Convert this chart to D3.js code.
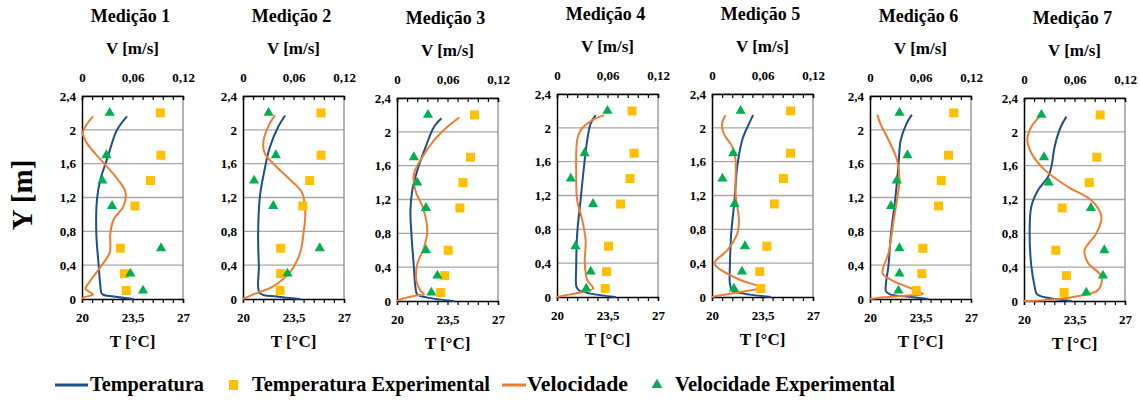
<!DOCTYPE html>
<html><head><meta charset="utf-8">
<script src="https://cdn.jsdelivr.net/npm/d3@7"></script>
<style>body{margin:0;background:#fff}svg{display:block}</style>
</head><body><svg id="c" width="1140" height="400"></svg>
<script>
// ---------- data ----------
const titles = ["Medição 1","Medição 2","Medição 3","Medição 4","Medição 5","Medição 6","Medição 7"];
const yTicks = [0,0.4,0.8,1.2,1.6,2,2.4];
const yTickLabels = ["0","0,4","0,8","1,2","1,6","2","2,4"];
const tTicks = [20,23.5,27];
const tTickLabels = ["20","23,5","27"];
const vTicks = [0,0.06,0.12];
const vTickLabels = ["0","0,06","0,12"];
const yExp = [0.1,0.3,0.6,1.1,1.4,1.7,2.2];

const tExp1 = [23.07,22.93,22.66,23.67,24.74,25.47,25.43];
const tExp2 = [22.57,22.61,22.61,24.15,24.62,25.41,25.41];
const tExp3 = [23.03,23.31,23.55,24.36,24.57,25.09,25.37];
const tExp4 = [23.34,23.43,23.57,24.41,25.06,25.34,25.2];
const tExp5 = [23.38,23.31,23.8,24.32,24.95,25.44,25.44];
const tExp6 = [23.2,23.59,23.66,24.75,24.94,25.44,25.8];
const tExp7 = [22.78,22.94,22.2,22.64,24.52,25.05,25.28];

const vExp1 = [0.0725,0.0574,0.0939,0.0357,0.0242,0.029,0.0329];
const vExp2 = [null,0.0528,0.0912,0.036,0.0132,0.039,0.0304];
const vExp3 = [0.0408,0.048,0.0344,0.0344,0.024,0.02,0.0368];
const vExp4 = [0.0348,0.04,0.022,0.0428,0.0164,0.0328,0.06];
const vExp5 = [0.026,0.0356,0.0392,0.0268,0.0124,0.0252,0.034];
const vExp6 = [0.0338,0.035,0.035,0.025,0.0318,0.0445,0.035];
const vExp7 = [0.074,0.0938,0.0954,0.0795,0.0294,0.0238,0.0207];

// simulated profiles: [Y, T]
const tSim1 = [[0,23.58],[0.03,22.2],[0.06,21.39],[0.16,21.27],[0.39,21.16],[0.78,20.99],[1.18,21.04],[1.41,21.27],[1.65,21.73],[2.0,22.43],[2.16,23.12]];
const tSim2 = [[0,23.97],[0.03,22.33],[0.07,21.17],[0.38,21.1],[0.78,21.05],[1.21,21.17],[1.49,21.45],[1.8,21.87],[2.04,22.45],[2.17,22.92]];
const tSim3 = [[0,23.97],[0.04,22.1],[0.08,21.4],[0.16,21.28],[0.4,21.17],[0.79,21.0],[1.07,20.93],[1.3,21.05],[1.54,21.4],[1.82,21.98],[2.06,22.57],[2.16,23.08]];
const tSim4 = [[0,24.08],[0.04,22.33],[0.08,21.52],[0.12,21.35],[0.36,21.33],[0.75,21.4],[1.14,21.63],[1.54,21.87],[1.86,22.1],[2.05,22.33],[2.15,22.68]];
const tSim5 = [[0,24.08],[0.04,22.2],[0.08,21.4],[0.16,21.24],[0.36,21.24],[0.75,21.33],[1.14,21.56],[1.54,21.75],[1.86,22.1],[2.05,22.57],[2.15,22.85]];
const tSim6 = [[0,24.06],[0.03,22.55],[0.055,21.39],[0.09,21.11],[0.19,21.11],[0.38,21.27],[0.78,21.46],[1.17,21.74],[1.57,21.97],[1.88,22.13],[2.08,22.55],[2.18,22.9]];
const tSim7 = [[0,23.3],[0.03,21.9],[0.06,21.1],[0.09,20.86],[0.17,20.74],[0.41,20.51],[0.8,20.39],[1.12,20.51],[1.31,20.97],[1.47,21.67],[1.59,21.9],[1.83,22.13],[2.06,22.55],[2.18,22.94]];

// simulated profiles: [Y, V]
const vSim1 = [[0,0],[0.02,0.002],[0.05,0.013],[0.07,0.011],[0.12,0.004],[0.16,0.006],[0.27,0.0139],[0.43,0.0257],[0.55,0.033],[0.78,0.0337],[0.94,0.0376],[1.1,0.0495],[1.27,0.0515],[1.45,0.0396],[1.65,0.0218],[1.84,0.006],[1.96,0.001],[2.04,0.004],[2.16,0.013]];
const vSim2 = [[0,0],[0.07,0.016],[0.15,0.036],[0.32,0.056],[0.55,0.068],[0.79,0.072],[1.02,0.074],[1.26,0.07],[1.41,0.056],[1.56,0.04],[1.72,0.026],[1.84,0.024],[2.04,0.03],[2.17,0.038]];
const vSim3 = [[0,0],[0.02,0.004],[0.06,0.02],[0.08,0.032],[0.12,0.028],[0.24,0.023],[0.43,0.024],[0.63,0.032],[0.83,0.036],[1.1,0.031],[1.3,0.022],[1.5,0.02],[1.7,0.03],[1.9,0.044],[2.06,0.06],[2.17,0.074]];
const vSim4 = [[0,0],[0.02,0.01],[0.06,0.03],[0.1,0.043],[0.2,0.036],[0.39,0.033],[0.67,0.034],[0.91,0.03],[1.14,0.024],[1.46,0.0228],[1.86,0.024],[1.97,0.028],[2.09,0.042],[2.15,0.056]];
const vSim5 = [[0,0],[0.02,0.01],[0.06,0.034],[0.11,0.058],[0.2,0.034],[0.3,0.014],[0.4,0.0028],[0.55,0.018],[0.75,0.03],[0.91,0.032],[1.22,0.028],[1.62,0.028],[1.78,0.024],[1.93,0.014],[2.05,0.012],[2.15,0.016]];
const vSim6 = [[0,0],[0.02,0.016],[0.04,0.044],[0.06,0.063],[0.13,0.048],[0.22,0.026],[0.3,0.015],[0.38,0.016],[0.54,0.022],[0.86,0.027],[1.17,0.032],[1.41,0.035],[1.65,0.032],[1.88,0.022],[2.08,0.012],[2.18,0.0087]];
const vSim7 = [[0,0],[0.01,0.025],[0.05,0.06],[0.13,0.088],[0.29,0.092],[0.45,0.076],[0.6,0.072],[0.8,0.086],[1.0,0.092],[1.19,0.08],[1.35,0.052],[1.55,0.0246],[1.75,0.0087],[1.91,0.004],[2.06,0.0087],[2.18,0.0187]];

const tExpAll = [tExp1,tExp2,tExp3,tExp4,tExp5,tExp6,tExp7];
const vExpAll = [vExp1,vExp2,vExp3,vExp4,vExp5,vExp6,vExp7];
const tSimAll = [tSim1,tSim2,tSim3,tSim4,tSim5,tSim6,tSim7];
const vSimAll = [vSim1,vSim2,vSim3,vSim4,vSim5,vSim6,vSim7];

const legendLabels = ["Temperatura","Temperatura Experimental","Velocidade","Velocidade Experimental"];

// ---------- layout ----------
const FONT = '"Liberation Serif","Times New Roman",serif';
const panelLeft = [82,243,397,557,712,870,1024];
const panelTop = [96,96,98,94,94,96,98];
const PW = 101, PH = 203;
const C = {temp:"#1f4e8c", tExp:"#ffc000", vel:"#ed7d31", vExp:"#00b050", grid:"#a6a6a6"};

const svg = d3.select("#c");

titles.forEach((title,i)=>{
  const g = svg.append("g").attr("transform",`translate(${panelLeft[i]},${panelTop[i]})`);
  const y = d3.scaleLinear().domain([0,2.4]).range([PH,0]);
  const xT = d3.scaleLinear().domain([20,27]).range([0,PW]);
  const xV = d3.scaleLinear().domain([0,0.12]).range([0,PW]);

  // gridlines
  g.append("g").selectAll("line").data(yTicks.slice(1)).join("line")
    .attr("x1",0).attr("x2",PW).attr("y1",d=>y(d)).attr("y2",d=>y(d))
    .attr("stroke",C.grid).attr("stroke-width",1.3);
  // right border
  g.append("line").attr("x1",PW).attr("x2",PW).attr("y1",0).attr("y2",PH).attr("stroke","#8c8c8c").attr("stroke-width",1.3);
  // left axis
  const ly = g.append("g").call(d3.axisLeft(y).tickValues(yTicks).tickFormat((d,k)=>yTickLabels[k]).tickSize(0).tickPadding(6));
  ly.select(".domain").attr("stroke","#000").attr("stroke-width",1.5);
  ly.selectAll("text").style("font-size","13px");

  // top V axis
  const ta = g.append("g").call(d3.axisTop(xV).tickValues(d3.range(0,11).map(k=>k*0.012)).tickSize(-4).tickFormat(""));
  ta.select(".domain").attr("stroke","#000").attr("stroke-width",1.5);
  ta.selectAll(".tick line").attr("stroke","#000").attr("stroke-width",1.2);
  const ta2 = g.append("g").call(d3.axisTop(xV).tickValues(vTicks).tickFormat((d,k)=>vTickLabels[k]).tickSize(0).tickPadding(14));
  ta2.select(".domain").remove();
  ta2.selectAll("text").style("font-size","13px");

  // bottom T axis
  const ba = g.append("g").attr("transform",`translate(0,${PH})`)
    .call(d3.axisBottom(xT).tickValues(d3.range(0,11).map(k=>20+k*0.7)).tickSize(4).tickFormat(""));
  ba.select(".domain").attr("stroke","#000").attr("stroke-width",1.5);
  ba.selectAll(".tick line").attr("stroke","#000").attr("stroke-width",1.2);
  const ba2 = g.append("g").attr("transform",`translate(0,${PH})`)
    .call(d3.axisBottom(xT).tickValues(tTicks).tickFormat((d,k)=>tTickLabels[k]).tickSize(0).tickPadding(14));
  ba2.select(".domain").remove();
  ba2.selectAll("text").style("font-size","13px");

  // titles
  g.append("text").attr("x",PW/2-2).attr("y",-74).attr("text-anchor","middle").style("font-size","18px").text(title);
  g.append("text").attr("x",PW/2).attr("y",-42).attr("text-anchor","middle").style("font-size","17px").text("V [m/s]");
  g.append("text").attr("x",PW/2).attr("y",PH+48).attr("text-anchor","middle").style("font-size","17px").text("T [°C]");

  // simulated lines
  const lineT = d3.line().x(d=>xT(d[1])).y(d=>y(d[0])).curve(d3.curveCatmullRom.alpha(0.5));
  const lineV = d3.line().x(d=>xV(d[1])).y(d=>y(d[0])).curve(d3.curveCatmullRom.alpha(0.5));
  g.append("path").attr("d",lineT(tSimAll[i])).attr("fill","none").attr("stroke",C.temp).attr("stroke-width",2);
  g.append("path").attr("d",lineV(vSimAll[i])).attr("fill","none").attr("stroke",C.vel).attr("stroke-width",2);

  // experimental markers
  const sq = 9;
  g.append("g").selectAll("rect").data(yExp.map((yy,k)=>[yy,tExpAll[i][k]]).filter(d=>d[1]!=null)).join("rect")
    .attr("x",d=>xT(d[1])-sq/2).attr("y",d=>y(d[0])-sq/2).attr("width",sq).attr("height",sq).attr("fill",C.tExp);
  const tri = d3.symbol().type(d3.symbolTriangle).size(45);
  g.append("g").selectAll("path").data(yExp.map((yy,k)=>[yy,vExpAll[i][k]]).filter(d=>d[1]!=null)).join("path")
    .attr("d",tri).attr("transform",d=>`translate(${xV(d[1])},${y(d[0])})`).attr("fill",C.vExp);
});

// Y label
svg.append("text").attr("transform","translate(32,195) rotate(-90)").attr("text-anchor","middle").style("font-size","29px").text("Y [m]");

// legend
const lg = svg.append("g").attr("transform","translate(0,385)");
const lgText = (x,w,s)=>lg.append("text").attr("x",x).attr("y",6).attr("textLength",w).attr("lengthAdjust","spacingAndGlyphs").style("font-size","20px").text(s);
lg.append("line").attr("x1",55).attr("x2",88).attr("y1",0).attr("y2",0).attr("stroke",C.temp).attr("stroke-width",3);
lgText(90,114,legendLabels[0]);
lg.append("rect").attr("x",229).attr("y",-5).attr("width",9).attr("height",10).attr("fill",C.tExp);
lgText(252,238,legendLabels[1]);
lg.append("line").attr("x1",502).attr("x2",526).attr("y1",0).attr("y2",0).attr("stroke",C.vel).attr("stroke-width",3);
lgText(527,101,legendLabels[2]);
lg.append("path").attr("d",d3.symbol().type(d3.symbolTriangle).size(50)).attr("transform","translate(657,0)").attr("fill",C.vExp);
lgText(675,220,legendLabels[3]);

// fonts on all text
svg.selectAll("text").style("font-family",FONT).style("font-weight","bold").attr("fill","#000");
svg.selectAll("g").attr("font-family",null);
</script></body></html>
